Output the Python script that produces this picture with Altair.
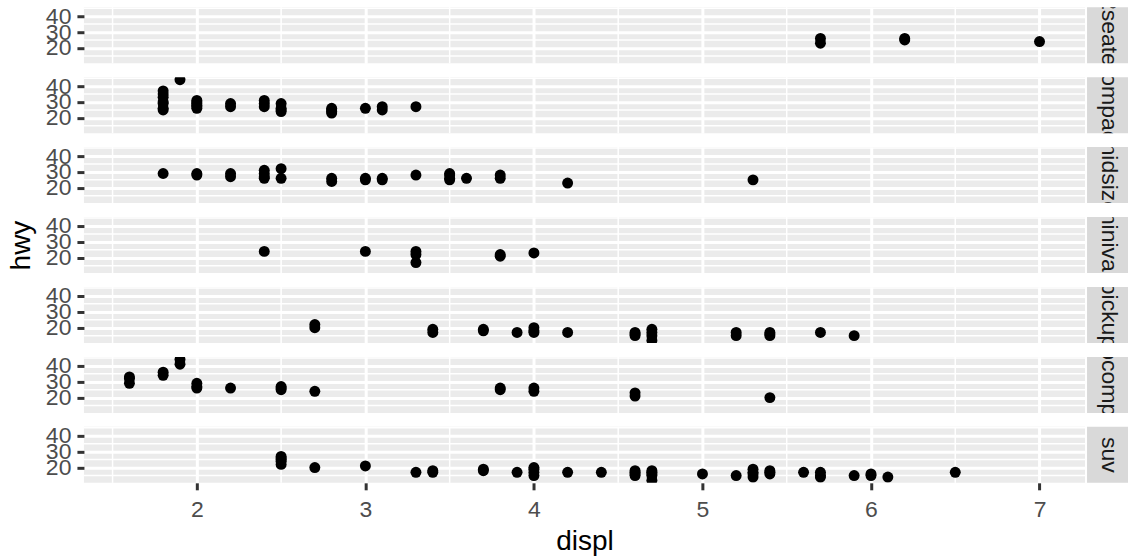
import altair as alt
import pandas as pd

# Vehicle classes, one facet row each (top to bottom)
classes = ["2seater", "compact", "midsize", "minivan", "pickup", "subcompact", "suv"]

# Engine displacement (litres) and highway mileage per class
displ_2seater = [5.7, 5.7, 6.2, 6.2, 7.0]
hwy_2seater = [26, 23, 26, 25, 24]

displ_compact = [1.8, 1.8, 1.8, 1.8, 1.8, 1.8, 1.8, 1.9, 2.0, 2.0, 2.0, 2.0, 2.0, 2.0,
                 2.2, 2.2, 2.4, 2.4, 2.4, 2.5, 2.5, 2.5, 2.5, 2.8, 2.8, 2.8, 2.8,
                 3.0, 3.1, 3.1, 3.3]
hwy_compact = [25, 26, 29, 30, 33, 35, 37, 44, 26, 27, 28, 29, 30, 31,
               27, 29, 27, 29, 31, 24, 25, 26, 29, 23, 24, 25, 26,
               26, 25, 27, 27]

displ_midsize = [1.8, 2.0, 2.0, 2.2, 2.2, 2.4, 2.4, 2.4, 2.4, 2.5, 2.5, 2.8, 2.8,
                 3.0, 3.0, 3.1, 3.1, 3.3, 3.5, 3.5, 3.5, 3.5, 3.6, 3.8, 3.8, 4.2, 5.3]
hwy_midsize = [29, 28, 29, 27, 29, 26, 27, 29, 31, 26, 32, 24, 26,
               25, 26, 25, 26, 28, 25, 26, 28, 29, 26, 26, 28, 23, 25]

displ_minivan = [2.4, 3.0, 3.3, 3.3, 3.3, 3.8, 3.8, 4.0]
hwy_minivan = [24, 24, 17, 22, 24, 21, 22, 23]

displ_pickup = [2.7, 2.7, 3.4, 3.4, 3.7, 3.7, 3.9, 4.0, 4.0, 4.0, 4.2, 4.6, 4.6, 4.6,
                4.7, 4.7, 4.7, 4.7, 5.2, 5.2, 5.4, 5.4, 5.4, 5.7, 5.9]
hwy_pickup = [20, 22, 17, 19, 18, 19, 17, 17, 18, 20, 17, 15, 16, 17,
              12, 15, 17, 19, 15, 17, 15, 16, 17, 17, 15]

displ_subcompact = [1.6, 1.6, 1.6, 1.8, 1.8, 1.9, 1.9, 2.0, 2.0, 2.0, 2.2,
                    2.5, 2.5, 2.5, 2.7, 3.8, 3.8, 4.0, 4.0, 4.6, 4.6, 5.4]
hwy_subcompact = [29, 32, 33, 34, 36, 41, 44, 26, 27, 29, 26,
                  25, 26, 27, 24, 25, 26, 24, 26, 21, 23, 20]

displ_suv = [2.5, 2.5, 2.5, 2.5, 2.5, 2.7, 3.0, 3.3, 3.4, 3.4, 3.7, 3.7, 3.9,
             4.0, 4.0, 4.0, 4.0, 4.2, 4.4, 4.6, 4.6, 4.6, 4.6,
             4.7, 4.7, 4.7, 4.7, 4.7, 5.0, 5.2, 5.3, 5.3, 5.3, 5.3,
             5.4, 5.4, 5.4, 5.6, 5.7, 5.7, 5.7, 5.9, 6.0, 6.0, 6.1, 6.5]
hwy_suv = [22, 24, 25, 26, 27, 20, 21, 17, 17, 18, 18, 19, 17,
           15, 17, 19, 20, 17, 17, 15, 16, 17, 18,
           12, 15, 16, 17, 18, 16, 15, 14, 16, 17, 19,
           16, 17, 18, 17, 14, 15, 17, 15, 15, 16, 14, 17]

# Axis breaks
x_major = [2, 3, 4, 5, 6, 7]
x_minor = [1.5, 2.5, 3.5, 4.5, 5.5, 6.5]
y_major = [20, 30, 40]
y_minor = [15, 25, 35, 45]

series = {
    "2seater": (displ_2seater, hwy_2seater),
    "compact": (displ_compact, hwy_compact),
    "midsize": (displ_midsize, hwy_midsize),
    "minivan": (displ_minivan, hwy_minivan),
    "pickup": (displ_pickup, hwy_pickup),
    "subcompact": (displ_subcompact, hwy_subcompact),
    "suv": (displ_suv, hwy_suv),
}

FONT = "Liberation Sans"
PANEL_W, PANEL_H = 1002, 56
STRIP_W = 41

# Shared scales with ggplot-style 5% expansion
all_d = sum((v[0] for v in series.values()), [])
all_h = sum((v[1] for v in series.values()), [])
dpad = (max(all_d) - min(all_d)) * 0.05
hpad = (max(all_h) - min(all_h)) * 0.05
xscale = alt.Scale(domain=[min(all_d) - dpad, max(all_d) + dpad], nice=False, zero=False)
yscale = alt.Scale(domain=[min(all_h) - hpad, max(all_h) + hpad], nice=False, zero=False)

grid_minor_x = pd.DataFrame({"displ": x_minor})
grid_minor_y = pd.DataFrame({"hwy": y_minor})


def panel(cls, bottom, middle):
    d, h = series[cls]
    data = pd.DataFrame({"displ": d, "hwy": h})
    if bottom:
        xaxis = alt.Axis(values=x_major, grid=True, gridColor="white", gridWidth=3,
                         domain=False, ticks=True, tickColor="#333333", tickWidth=3,
                         tickSize=7, labelFontSize=23, labelColor="#4D4D4D",
                         labelPadding=9, labelFont=FONT, labelFlush=False,
                         title="displ", titleFontSize=28, titleFont=FONT,
                         titleColor="black", titleFontWeight="normal", titlePadding=6)
    else:
        xaxis = alt.Axis(values=x_major, grid=True, gridColor="white", gridWidth=3,
                         domain=False, ticks=False, labels=False, title=None)
    yaxis = alt.Axis(values=y_major, grid=True, gridColor="white", gridWidth=3,
                     domain=False, ticks=True, tickColor="#333333", tickWidth=3,
                     tickSize=7, labelFontSize=23, labelColor="#4D4D4D",
                     labelPadding=6, labelFont=FONT, labelOverlap=False,
                     labelFlush=False, title="hwy", titleFontSize=28,
                     titleFont=FONT, titleFontWeight="normal",
                     titleColor="black" if middle else "transparent",
                     titlePadding=10)

    vminor = alt.Chart(grid_minor_x).mark_rule(color="white", strokeWidth=1.5).encode(
        x=alt.X("displ:Q", scale=xscale, axis=xaxis))
    hminor = alt.Chart(grid_minor_y).mark_rule(color="white", strokeWidth=1.5).encode(
        y=alt.Y("hwy:Q", scale=yscale, axis=yaxis))
    pts = alt.Chart(data).mark_circle(size=120, color="black", opacity=1, clip=True).encode(
        x=alt.X("displ:Q", scale=xscale, axis=xaxis),
        y=alt.Y("hwy:Q", scale=yscale, axis=yaxis))
    body = alt.layer(vminor, hminor, pts).properties(
        width=PANEL_W, height=PANEL_H,
        view=alt.ViewBackground(fill="#EBEBEB", stroke=None))

    strip = alt.Chart(pd.DataFrame({"label": [cls]})).mark_text(
        angle=90, fontSize=23, font=FONT, color="#1A1A1A", clip=True,
        align="center", baseline="middle").encode(
        text="label:N", x=alt.value(22), y=alt.value(PANEL_H / 2)).properties(
        width=STRIP_W, height=PANEL_H,
        view=alt.ViewBackground(fill="#D9D9D9", stroke=None))

    return alt.hconcat(body, strip, spacing=1)


rows = [panel(c, i == len(classes) - 1, i == 3) for i, c in enumerate(classes)]

chart = alt.vconcat(*rows, spacing=10).properties(
    padding={"left": 7, "top": 4, "right": 0, "bottom": 0},
    background="white",
)

chart.save("out.html", embed_options={"renderer": "svg", "actions": False})
